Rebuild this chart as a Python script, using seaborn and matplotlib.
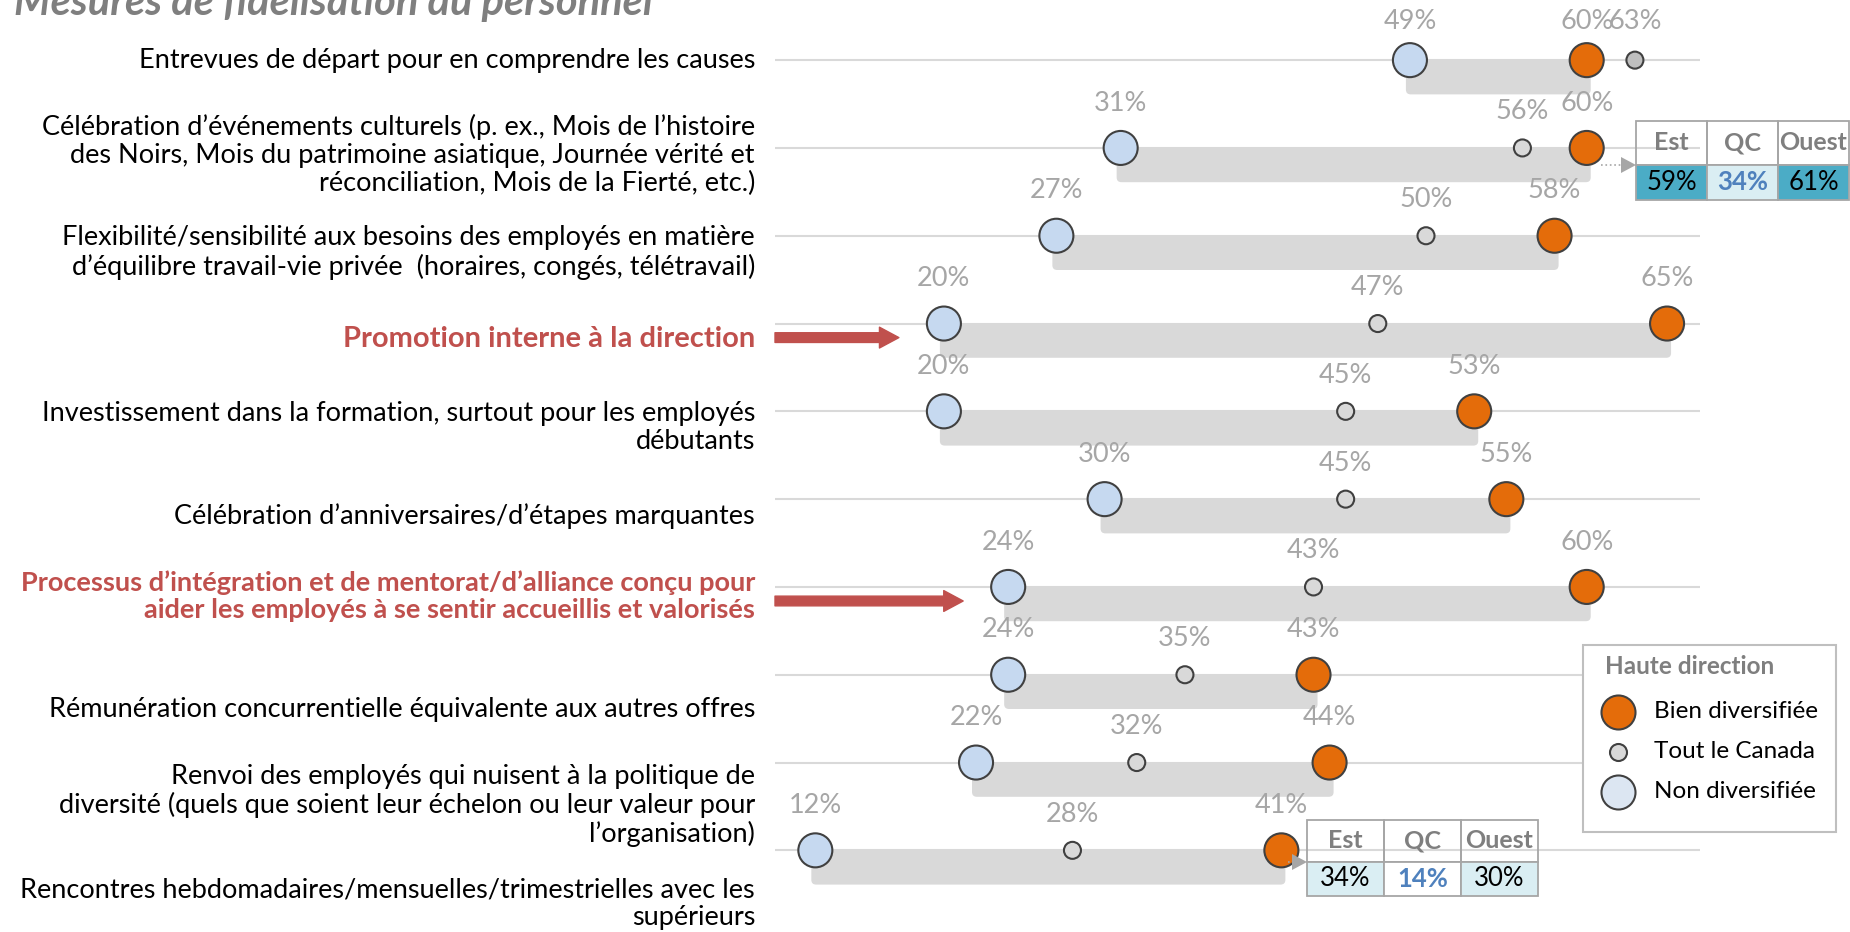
import numpy as np
import pandas as pd
import matplotlib
matplotlib.use("Agg")
import matplotlib.pyplot as plt
import matplotlib.transforms as mtransforms
from matplotlib.patches import Rectangle, FancyBboxPatch, FancyArrowPatch, Polygon
import seaborn as sns

# Data
labels = [
    "Entrevues de départ pour en comprendre les causes",
    "Célébration d’événements culturels (p. ex., Mois de l’histoire\ndes Noirs, Mois du patrimoine asiatique, Journée vérité et\nréconciliation, Mois de la Fierté, etc.)",
    "Flexibilité/sensibilité aux besoins des employés en matière\nd’équilibre travail-vie privée  (horaires, congés, télétravail)",
    "Promotion interne à la direction",
    "Investissement dans la formation, surtout pour les employés\ndébutants",
    "Célébration d’anniversaires/d’étapes marquantes",
    "Processus d’intégration et de mentorat/d’alliance conçu pour\naider les employés à se sentir accueillis et valorisés",
    "Rémunération concurrentielle équivalente aux autres offres",
    "Renvoi des employés qui nuisent à la politique de\ndiversité (quels que soient leur échelon ou leur valeur pour\nl’organisation)",
    "Rencontres hebdomadaires/mensuelles/trimestrielles avec les\nsupérieurs",
]
non_div = [49, 31, 27, 20, 20, 30, 24, 24, 22, 12]
canada = [63, 56, 50, 47, 45, 45, 43, 35, 32, 28]
bien_div = [60, 60, 58, 65, 53, 55, 60, 43, 44, 41]
highlight = [False, False, False, True, False, False, True, False, False, False]

regions = ["Est", "QC", "Ouest"]
reg_culturels = [59, 34, 61]
reg_rencontres = [34, 14, 30]

# layout: vertical shift of the left labels (in rows)
label_shift = [0, .08, .19, .18, .18, .19, .11, .40, .49, .61]

sns.set_theme(style="white")
plt.rcParams["font.family"] = ["Lato", "DejaVu Sans"]

W, H = 1850, 932
ORANGE = "#e46c0a"
BLUE = "#c6d9f0"
GREY = "#d9d9d9"
EDGE = "#404040"
LBL = "#a6a6a6"
RED = "#c0504d"
FS = 19.5

fig = plt.figure(figsize=(W / 100, H / 100), dpi=100)
ax = fig.add_axes([775 / W, 0, 925 / W, 1])
ax.set_xlim(9.49, 67.05)
ax.set_ylim(9.93, -0.685)
ax.axis("off")

rows = np.arange(len(labels))
for r in rows:
    ax.plot([9.49, 67.05], [r, r], color=GREY, lw=1.5, zorder=1, solid_capstyle="butt")
    lo, hi = non_div[r], bien_div[r]
    ax.add_patch(FancyBboxPatch((lo - 0.25, r), hi - lo + 0.5, 0.39,
                                boxstyle="round,pad=0,rounding_size=0.3",
                                mutation_aspect=0.18, fc=GREY, ec="none", zorder=1))

df = pd.DataFrame({"row": rows, "Non diversifiée": non_div,
                   "Tout le Canada": canada, "Bien diversifiée": bien_div})
long = df.melt(id_vars="row", var_name="groupe", value_name="pct")

styles = {"Non diversifiée": (BLUE, 600, 0.51),
          "Tout le Canada": (GREY, 150, 0.41),
          "Bien diversifiée": (ORANGE, 600, 0.51)}
for g, (col, s, off) in styles.items():
    sub = long[long["groupe"] == g]
    # the first "Tout le Canada" point sits outside the band and is a bit darker
    cols = ["#bfbfbf" if (g == "Tout le Canada" and r == 0) else col for r in sub["row"]]
    sns.scatterplot(data=sub, x="pct", y="row", c=cols, s=s, edgecolor=EDGE,
                    linewidth=1.5, ax=ax, zorder=3, clip_on=False, legend=False)
    for _, rr in sub.iterrows():
        o = 0.44 if rr["row"] == 0 else off
        ax.text(rr["pct"], rr["row"] - o, f"{rr['pct']}%", ha="center", va="center",
                color=LBL, fontsize=FS, zorder=4)

# left labels
trans = mtransforms.blended_transform_factory(fig.transFigure, ax.transData)
for r in rows:
    ax.text(755 / W, r + label_shift[r], labels[r], transform=trans, ha="right",
            va="center", multialignment="right", fontsize=FS + (1.5 if r == 3 else 0),
            color=RED if highlight[r] else "black",
            fontweight="bold" if highlight[r] else "normal", linespacing=1.15)
    if highlight[r]:
        ax.add_patch(FancyArrowPatch((9.49, r + 0.16), (non_div[r] - 2.8, r + 0.16),
                                     arrowstyle="simple,head_length=1.4,head_width=1.5,tail_width=0.7",
                                     mutation_scale=10, color=RED, shrinkA=0, shrinkB=0,
                                     clip_on=False, zorder=2))

# overlay in pixel coordinates
ov = fig.add_axes([0, 0, 1, 1])
ov.set_xlim(0, W)
ov.set_ylim(H, 0)
ov.axis("off")
ov.patch.set_visible(False)


def region_table(x0, top, cw, hh, vh, vals, bgs, xm):
    mid = top + hh
    ov.plot([xm, x0 - 15], [mid, mid], color=LBL, lw=1.2, ls=":")
    ov.add_patch(Polygon([(x0 - 15, mid - 8), (x0 - 15, mid + 8), (x0, mid)],
                         closed=True, fc=LBL, ec="none"))
    for j, (reg, v) in enumerate(zip(regions, vals)):
        x = x0 + j * cw
        ov.add_patch(Rectangle((x, top), cw, hh, fc="none", ec=LBL, lw=1.3))
        ov.text(x + cw / 2, top + hh / 2, reg, ha="center", va="center",
                fontsize=18, fontweight="bold", color="#7f7f7f")
        ov.add_patch(Rectangle((x, mid), cw, vh, fc=bgs[j], ec=LBL, lw=1.3))
        qc = reg == "QC"
        ov.text(x + cw / 2, mid + vh / 2, f"{v}%", ha="center", va="center",
                fontsize=18.5, fontweight="bold" if qc else "normal",
                color="#4f81bd" if qc else "black")


region_table(1636, 121, 71, 44, 35, reg_culturels, ["#4bacc6", "#daeef3", "#4bacc6"], 1601)
region_table(1307, 820, 77, 42, 34, reg_rencontres, ["#daeef3", "white", "#daeef3"], 1288)

# legend
ov.add_patch(Rectangle((1583, 645), 253, 187, fc="white", ec="#bfbfbf", lw=1.5))
ov.text(1605, 667, "Haute direction", ha="left", va="center", fontsize=17.5,
        fontweight="bold", color="#7f7f7f")
for yy, (name, col, s) in zip([712, 752, 792], [("Bien diversifiée", ORANGE, 600),
                                                  ("Tout le Canada", GREY, 150),
                                                  ("Non diversifiée", "#dce6f2", 600)]):
    ov.scatter([1618], [yy], s=s, color=col, edgecolor=EDGE, linewidth=1.5, zorder=3)
    ov.text(1654, yy, name, ha="left", va="center", fontsize=17.5, color="black")

# title, clipped at the top like the original
fig.text(14 / W, 1 - 15 / H, "Mesures de fidélisation du personnel", ha="left",
         va="baseline", fontsize=30, fontweight="bold", fontstyle="italic", color="#7f7f7f")

fig.savefig("out.png", dpi=100, facecolor="white")
